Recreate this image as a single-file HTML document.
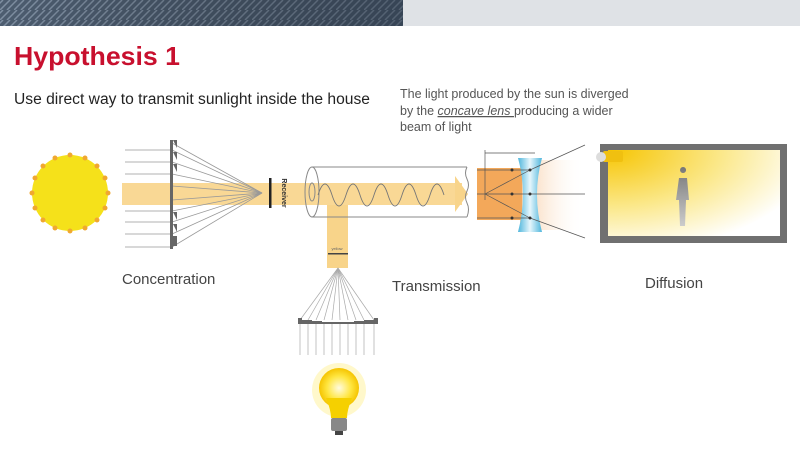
<!DOCTYPE html>
<html><head><meta charset="utf-8"><style>
html,body{margin:0;padding:0;background:#fff;width:800px;height:455px;overflow:hidden;font-family:"Liberation Sans",sans-serif}
</style></head><body>
<svg width="800" height="455" viewBox="0 0 800 455" xmlns="http://www.w3.org/2000/svg" font-family="Liberation Sans, sans-serif">
<defs>
<pattern id="tex" width="14" height="10" patternUnits="userSpaceOnUse">
<rect width="14" height="10" fill="#4d5d70"/>
<path d="M0 10 L10 0 M7 10 L17 0 M-7 10 L3 0" stroke="#7f8fa2" stroke-width="1.5"/>
</pattern>
<linearGradient id="hdr" x1="0" x2="1"><stop offset="0" stop-color="#000" stop-opacity="0"/><stop offset="1" stop-color="#1c2735" stop-opacity="0.45"/></linearGradient>
<radialGradient id="room" cx="0" cy="0" r="1.2"><stop offset="0" stop-color="#f6c400"/><stop offset="0.55" stop-color="#fbe88a"/><stop offset="1" stop-color="#fff"/></radialGradient>
<linearGradient id="fade" x1="0" x2="1"><stop offset="0" stop-color="#f2a860"/><stop offset="1" stop-color="#fff" stop-opacity="0"/></linearGradient>
<linearGradient id="lens" x1="0" x2="1"><stop offset="0" stop-color="#4fb6dc"/><stop offset="0.5" stop-color="#e6f6fc"/><stop offset="1" stop-color="#4fb6dc"/></linearGradient>
<radialGradient id="bulb"><stop offset="0" stop-color="#fffbe0"/><stop offset="0.6" stop-color="#ffe640"/><stop offset="1" stop-color="#f5c400"/></radialGradient>
<linearGradient id="man" x1="0" x2="0" y1="0" y2="1"><stop offset="0" stop-color="#777"/><stop offset="1" stop-color="#ccc"/></linearGradient>
</defs>
<rect x="0" y="0" width="403" height="26" fill="url(#tex)"/>
<rect x="0" y="0" width="403" height="26" fill="url(#hdr)"/>
<rect x="403" y="0" width="397" height="26" fill="#dfe2e6"/>
<text x="14" y="65" font-size="26" font-weight="bold" fill="#c8102e" textLength="166" lengthAdjust="spacingAndGlyphs">Hypothesis 1</text>
<text x="14" y="104" font-size="15.5" fill="#222" textLength="356" lengthAdjust="spacingAndGlyphs">Use direct way to transmit sunlight  inside the house</text>
<g font-size="12.5" fill="#555">
<text x="400" y="98">The light produced by the sun is diverged</text>
<text x="400" y="115">by the <tspan text-decoration="underline" font-style="italic">concave lens </tspan>producing a wider</text>
<text x="400" y="131">beam of light</text>
</g>
<circle cx="70" cy="193" r="38" fill="#f5e11a"/>
<g fill="#f0a830">
<circle cx="70" cy="155" r="2.5"/><circle cx="70" cy="231" r="2.5"/><circle cx="32" cy="193" r="2.5"/><circle cx="108" cy="193" r="2.5"/>
<circle cx="97" cy="166" r="2.5"/><circle cx="43" cy="166" r="2.5"/><circle cx="97" cy="220" r="2.5"/><circle cx="43" cy="220" r="2.5"/>
<circle cx="85" cy="158" r="2.5"/><circle cx="55" cy="158" r="2.5"/><circle cx="85" cy="228" r="2.5"/><circle cx="55" cy="228" r="2.5"/>
<circle cx="35" cy="178" r="2.5"/><circle cx="105" cy="178" r="2.5"/><circle cx="35" cy="208" r="2.5"/><circle cx="105" cy="208" r="2.5"/>
</g>
<rect x="122" y="183" width="340" height="22" fill="#f8d48a" opacity="0.9"/>
<rect x="327" y="205" width="21" height="63" fill="#f8d48a"/>
<path d="M455 176 L468 194 L455 212 Z" fill="#f8d48a"/>
<g stroke="#999" stroke-width="0.8">
<line x1="125" y1="150" x2="172" y2="150"/><line x1="125" y1="162" x2="172" y2="162"/><line x1="125" y1="174" x2="172" y2="174"/>
<line x1="125" y1="211" x2="172" y2="211"/><line x1="125" y1="222" x2="172" y2="222"/><line x1="125" y1="234" x2="172" y2="234"/><line x1="125" y1="247" x2="172" y2="247"/>
<line x1="172" y1="143" x2="262" y2="193"/><line x1="172" y1="150" x2="262" y2="193"/><line x1="172" y1="162" x2="262" y2="193"/><line x1="172" y1="174" x2="262" y2="193"/><line x1="172" y1="186" x2="262" y2="193"/><line x1="172" y1="200" x2="262" y2="193"/><line x1="172" y1="211" x2="262" y2="193"/><line x1="172" y1="222" x2="262" y2="193"/><line x1="172" y1="234" x2="262" y2="193"/><line x1="172" y1="247" x2="262" y2="193"/>
</g>
<rect x="170" y="140" width="3" height="109" fill="#666"/>
<g fill="#666"><path d="M173 140 h4 v8 z"/><path d="M173 152 h4 v8 z"/><path d="M173 164 h4 v8 z"/><path d="M173 212 h4 v8 z"/><path d="M173 224 h4 v8 z"/><path d="M173 236 h4 v10 h-4z"/></g>
<rect x="269" y="178" width="2.5" height="30" fill="#222"/>
<text transform="translate(282,193) rotate(90)" font-size="7" font-weight="bold" fill="#333" text-anchor="middle">Receiver</text>
<g fill="none" stroke="#888" stroke-width="1">
<path d="M312 167 H467 M312 217 H467"/>
<ellipse cx="312" cy="192" rx="7" ry="25"/>
<ellipse cx="312" cy="192" rx="3" ry="9"/>
<path d="M467 167 q-3 6 0 12 q3 6 0 12 q-3 6 0 12 q3 6 0 14"/>
</g>
<path d="M318 195 q7 -22 14 0 t14 0 t14 0 t14 0 t14 0 t14 0 t14 0 t14 0 t14 0" fill="none" stroke="#777" stroke-width="0.9"/>
<text x="337" y="250" font-size="4" text-anchor="middle" fill="#666">yellow</text>
<rect x="328" y="253" width="20" height="1.5" fill="#444"/>
<g stroke="#aaa" stroke-width="0.7">
<line x1="338" y1="268" x2="300" y2="320"/><line x1="338" y1="268" x2="308" y2="320"/><line x1="338" y1="268" x2="316" y2="320"/><line x1="338" y1="268" x2="324" y2="320"/><line x1="338" y1="268" x2="332" y2="320"/><line x1="338" y1="268" x2="340" y2="320"/><line x1="338" y1="268" x2="348" y2="320"/><line x1="338" y1="268" x2="356" y2="320"/><line x1="338" y1="268" x2="364" y2="320"/><line x1="338" y1="268" x2="374" y2="320"/>
<line x1="300" y1="323" x2="300" y2="355"/><line x1="308" y1="323" x2="308" y2="355"/><line x1="316" y1="323" x2="316" y2="355"/><line x1="324" y1="323" x2="324" y2="355"/><line x1="332" y1="323" x2="332" y2="355"/><line x1="340" y1="323" x2="340" y2="355"/><line x1="348" y1="323" x2="348" y2="355"/><line x1="356" y1="323" x2="356" y2="355"/><line x1="364" y1="323" x2="364" y2="355"/><line x1="374" y1="323" x2="374" y2="355"/>
</g>
<path d="M298 318 h4 v2 h10 v1 h10 v1 h32 v-1 h10 v-1 h10 v-2 h4 v6 h-80 z" fill="#666"/>
<circle cx="339" cy="390" r="27" fill="#fff3a0" opacity="0.55"/>
<circle cx="339" cy="388" r="20" fill="url(#bulb)"/>
<path d="M326 398 Q331 410 331 418 h16 Q347 410 352 398 z" fill="#f5d000"/>
<rect x="331" y="418" width="16" height="13" rx="2" fill="#888"/>
<rect x="335" y="431" width="8" height="4" fill="#444"/>
<rect x="477" y="168" width="70" height="52" fill="url(#fade)" opacity="0.5"/>
<rect x="477" y="168" width="45" height="52" fill="#f3a85a"/>
<rect x="520" y="160" width="65" height="70" fill="url(#fade)" opacity="0.55"/>
<path d="M518 158 h24 q-10 36 0 74 h-24 q10 -38 0 -74 z" fill="url(#lens)"/>
<g stroke="#555" stroke-width="0.7" fill="none">
<line x1="477" y1="194" x2="585" y2="194"/>
<line x1="485" y1="153" x2="535" y2="153"/><line x1="485" y1="150" x2="485" y2="200"/>
<path d="M477 170 h53 L585 145"/><path d="M477 218 h53 L585 238"/>
<path d="M485 194 L530 170"/><path d="M485 194 L530 218"/>
</g>
<g fill="#333"><circle cx="512" cy="170" r="1.5"/><circle cx="530" cy="170" r="1.5"/><circle cx="512" cy="194" r="1.5"/><circle cx="530" cy="194" r="1.5"/><circle cx="512" cy="218" r="1.5"/><circle cx="530" cy="218" r="1.5"/></g>
<rect x="600" y="144" width="187" height="99" fill="#707070"/>
<rect x="608" y="150" width="172" height="86" fill="url(#room)"/>
<rect x="603" y="151" width="20" height="11" rx="2" fill="#f0c010"/>
<circle cx="601" cy="157" r="5" fill="#ddd"/>
<path d="M683 173 a3 3 0 1 1 0.1 0 M679 178 h8 l2 22 h-3 l-1 26 h-5 l-1 -26 h-3 z" fill="url(#man)"/>
<g font-size="15" fill="#444">
<text x="122" y="284">Concentration</text>
<text x="392" y="291">Transmission</text>
<text x="645" y="288">Diffusion</text>
</g>
</svg>
</body></html>
